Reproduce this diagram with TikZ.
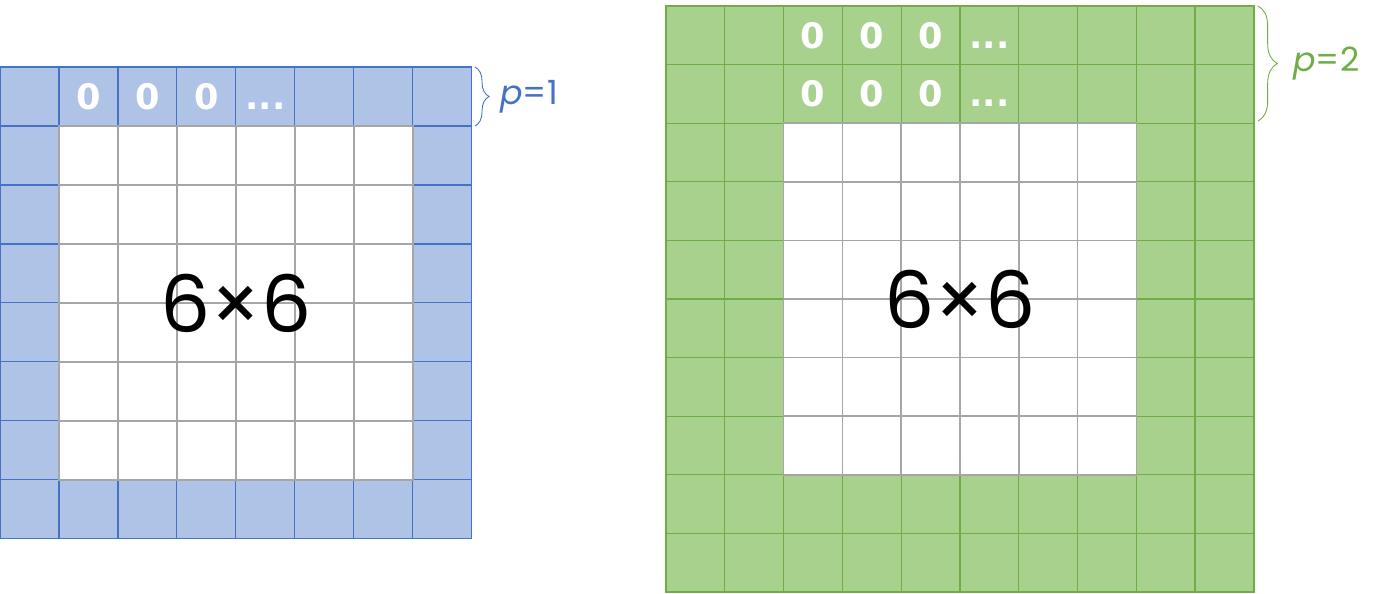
\documentclass[tikz,border=0pt]{standalone}
\usepackage{fontspec}
\setmainfont{Poppins}
\newfontfamily\zerofont{DejaVu Sans}
\usetikzlibrary{decorations.pathreplacing}
\definecolor{padblue}{RGB}{174,195,230}
\definecolor{lineblue}{RGB}{68,114,196}
\definecolor{padgreen}{RGB}{169,209,142}
\definecolor{linegreen}{RGB}{112,173,71}
\definecolor{cellgray}{RGB}{166,166,166}

\begin{document}
\begin{tikzpicture}[x=0.02cm,y=-0.02cm,
  bpad/.style={fill=padblue,draw=lineblue,line width=0.6pt},
  gpad/.style={fill=padgreen,draw=linegreen,line width=0.7pt},
  incell/.style={fill=white,draw=cellgray,line width=0.9pt},
  zero/.style={text=white,font=\zerofont\bfseries\fontsize{20}{20}\selectfont,inner sep=0pt,anchor=base},
  sizelbl/.style={font=\fontsize{45}{45}\selectfont,inner sep=0pt},
  pbrace/.style={decorate,decoration={brace,amplitude=#1},line width=0.5pt},
  plabel/.style={font=\fontsize{19}{19}\selectfont,anchor=west,inner sep=0pt},
]
\useasboundingbox (0,0) rectangle (1388,593);
% p=1
\begin{scope}[shift={(0,67)},x=1.18cm,y=-1.18cm]
\foreach \i in {0,...,7}
  \foreach \j in {0,...,7}
    \draw[bpad] (\i,\j) rectangle ++(1,1);
\foreach \i in {1,...,6}
  \foreach \j in {1,...,6}
    \draw[incell] (\i,\j) rectangle ++(1,1);
\foreach \i in {1,2,3}
  \node[zero] (lz\i) at (\i+0.5,0.72) {0};
\node[zero] (ldots) at (4.5,0.72) {...};
\node[sizelbl] (lsize) at (4,4) {6×6};
\end{scope}
% p=2
\begin{scope}[shift={(666,6)},x=1.176cm,y=-1.172cm]
\foreach \i in {0,...,9}
  \foreach \j in {0,...,9}
    \draw[gpad] (\i,\j) rectangle ++(1,1);
\foreach \i in {2,...,7}
  \foreach \j in {2,...,7}
    \draw[incell] (\i,\j) rectangle ++(1,1);
\foreach \r in {0,1} {
  \foreach \i in {2,3,4}
    \node[zero] (rz\r\i) at (\i+0.5,\r+0.72) {0};
  \node[zero] (rdots\r) at (5.5,\r+0.72) {...};
}
\node[sizelbl] (rsize) at (5,5) {6×6};
\end{scope}
% braces
\coordinate (lbt) at (475,67);
\coordinate (lbb) at (475,126);
\draw[pbrace=8pt,lineblue] (lbt) -- (lbb);
\node[plabel,text=lineblue] (lp) at (500,97) {\textit{p}=1};
\coordinate (rbt) at (1258,6);
\coordinate (rbb) at (1258,121);
\draw[pbrace=11pt,linegreen] (rbt) -- (rbb);
\node[plabel,text=linegreen] (rp) at (1293,64) {\textit{p}=2};
\end{tikzpicture}
\end{document}
